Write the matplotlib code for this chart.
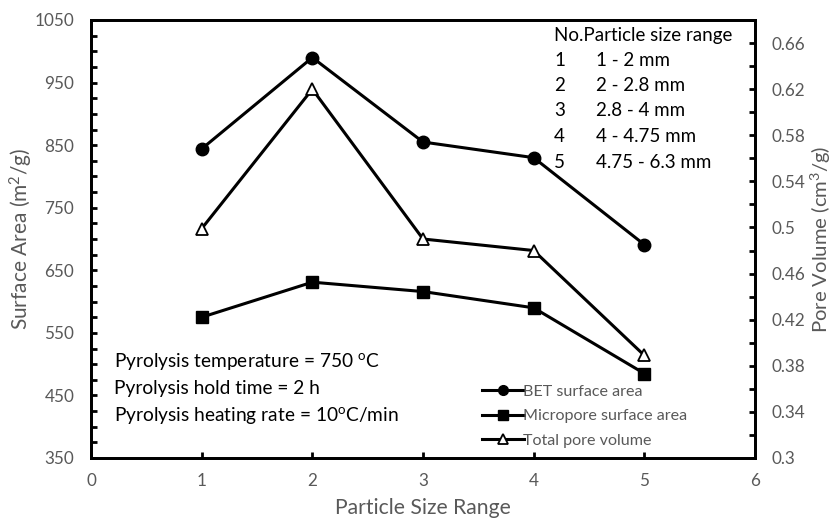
import matplotlib
matplotlib.use("Agg")
import matplotlib.pyplot as plt
from matplotlib.ticker import FixedLocator

plt.rcParams['font.family'] = ['Lato', 'DejaVu Sans']
plt.rcParams['mathtext.default'] = 'regular'

# Data
size_range = [1, 2, 3, 4, 5]
bet_area = [844, 990, 855, 830, 691]
micropore_area = [575, 631, 616, 590, 485]
pore_volume = [0.499, 0.620, 0.490, 0.480, 0.389]

size_labels = ["1 - 2 mm", "2 - 2.8 mm", "2.8 - 4 mm", "4 - 4.75 mm", "4.75 - 6.3 mm"]
conditions = ["Pyrolysis temperature = 750 $^{o}$C",
              "Pyrolysis hold time = 2 h",
              "Pyrolysis heating rate = 10$^{o}$C/min"]
area_ticks = [350, 450, 550, 650, 750, 850, 950, 1050]
volume_ticks = [0.3, 0.34, 0.38, 0.42, 0.46, 0.5, 0.54, 0.58, 0.62, 0.66]
volume_tick_labels = ["0.3", "0.34", "0.38", "0.42", "0.46", "0.5", "0.54", "0.58", "0.62", "0.66"]

gray = "#595959"
lw = 2.2
W, H = 837, 522

fig = plt.figure(figsize=(8.37, 5.22), dpi=100)
ax = fig.add_axes([91 / W, 1 - 458 / H, 664 / W, 438 / H])
ax2 = ax.twinx()

l1, = ax.plot(size_range, bet_area, color="black", lw=lw, marker="o", ms=9,
              label="BET surface area")
l2, = ax.plot(size_range, micropore_area, color="black", lw=lw, marker="s", ms=9,
              label="Micropore surface area")
l3, = ax2.plot(size_range, pore_volume, color="black", lw=lw, marker="^", ms=9,
               mfc="white", mec="black", mew=1.3, label="Total pore volume")

ax.set_xlim(0, 6)
ax.set_ylim(350, 1050)
ax2.set_ylim(0.3, 0.68)

ax.set_xticks(range(0, 7))
ax.set_yticks(area_ticks)
ax.yaxis.set_minor_locator(FixedLocator([350 + 25 * i for i in range(29)]))
ax2.set_yticks(volume_ticks)
ax2.set_yticklabels(volume_tick_labels)
ax2.yaxis.set_minor_locator(FixedLocator([0.3 + 0.02 * i for i in range(20)]))

for a in (ax, ax2):
    a.tick_params(axis="both", which="both", direction="in", length=4, width=2,
                  labelsize=12.3, colors="black")
    for s in a.spines.values():
        s.set_linewidth(2)
ax.tick_params(axis="x", pad=11)
ax.tick_params(axis="y", pad=12)
ax2.tick_params(axis="y", pad=12)
for lab in ax.get_xticklabels() + ax.get_yticklabels() + ax2.get_yticklabels():
    lab.set_color(gray)

ax.set_xlabel("Particle Size Range", fontsize=15.2, color=gray)
ax.xaxis.set_label_coords(0.5, -(508 - 458) / 438, transform=ax.transAxes)
ax.xaxis.label.set_va("center")
ax.set_ylabel("Surface Area (m$^{2}$/g)", fontsize=15, color=gray)
ax.yaxis.set_label_coords(-(91 - 21) / 664, 0.5)
ax.yaxis.label.set_va("center")
ax2.set_ylabel("Pore Volume (cm$^{3}$/g)", fontsize=14.6, color=gray, rotation=90)
ax2.yaxis.set_label_coords(1 + (821 - 755) / 664, 0.5)
ax2.yaxis.label.set_va("center")

# Particle size table
fig.text(554 / W, 1 - 35 / H, "No.Particle size range", fontsize=13.5,
         va="center", ha="left")
for i, lab in enumerate(size_labels):
    y = 60 + i * 25.5
    fig.text(554 / W, 1 - y / H, str(i + 1), fontsize=13.5, va="center", ha="left")
    fig.text(596 / W, 1 - y / H, lab, fontsize=13.5, va="center", ha="left")

# Pyrolysis conditions
for i, line in enumerate(conditions):
    y = 362 + i * 26.5
    fig.text(114 / W, 1 - y / H, line, fontsize=13.8, va="center", ha="left")

leg = ax.legend(handles=[l1, l2, l3], loc="lower left",
                bbox_to_anchor=((476 - 91) / 664, 4 / 438), frameon=False,
                fontsize=11.6, handlelength=2.6, handletextpad=-0.1,
                labelspacing=0.62, borderpad=0.3, borderaxespad=0.1)
for t in leg.get_texts():
    t.set_color(gray)
for h in leg.legend_handles:
    h.set_markersize(7)

fig.savefig("out.png", dpi=100)
